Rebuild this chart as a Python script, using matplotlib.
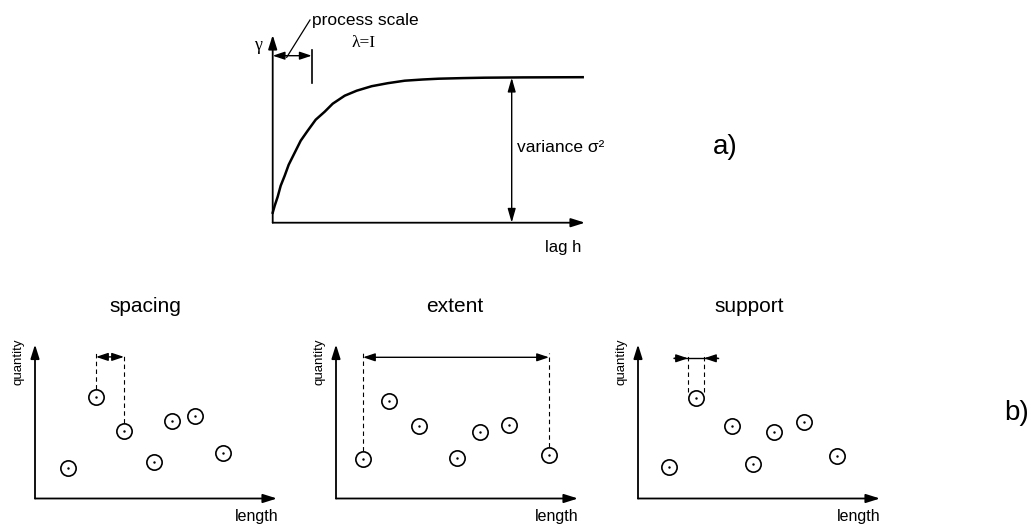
import matplotlib
matplotlib.use('Agg')
import matplotlib.pyplot as plt

plt.rcParams['font.family'] = ['Liberation Sans', 'DejaVu Sans']

W, H = 1031, 525

# variogram curve (lag h, gamma)
lag = [0, 2, 5, 8, 12, 16, 22, 28, 35, 43, 52, 60, 72, 84, 99, 115, 132, 150, 166, 190, 212, 250, 310]
gamma = [10, 17, 26, 37, 47, 58, 70, 82, 92, 103, 111, 119, 127, 132, 136.5, 139.5, 142,
         143.2, 144, 144.6, 145, 145.3, 145.5]
sill = 145
process_scale = 39
variance_at = 239

# sample points of the three bottom panels (length, quantity)
spacing_x = [33, 61, 89, 119, 137, 160, 188]
spacing_y = [31, 102, 68, 37, 78, 83, 46]
extent_x = [27, 53, 83, 121, 144, 173, 213]
extent_y = [40, 98, 73, 41, 67, 74, 44]
support_x = [31, 58, 94, 115, 136, 166, 199]
support_y = [32, 101, 73, 35, 67, 77, 43]

titles = ['spacing', 'extent', 'support']


def px_axes(fig, left, top, right, bottom):
    return fig.add_axes([left / W, 1 - bottom / H, (right - left) / W, (bottom - top) / H])


def axis_arrows(ax, lw=1.3):
    style = '-|>,head_length=0.7,head_width=0.22'
    ax.annotate('', xy=(1, 0), xytext=(0, 0), xycoords='axes fraction',
                arrowprops=dict(arrowstyle=style, lw=lw, color='k', shrinkA=0, shrinkB=0,
                                mutation_scale=12))
    ax.annotate('', xy=(0, 1), xytext=(0, 0), xycoords='axes fraction',
                arrowprops=dict(arrowstyle=style, lw=lw, color='k', shrinkA=0, shrinkB=0,
                                mutation_scale=12))


def dim_arrow(ax, x0, x1, y, style='<|-|>'):
    ax.annotate('', xy=(x1, y), xytext=(x0, y), xycoords='data',
                arrowprops=dict(arrowstyle=style + ',head_length=0.6,head_width=0.2', lw=1.0,
                                color='k', shrinkA=0, shrinkB=0, mutation_scale=12),
                annotation_clip=False)


fig = plt.figure(figsize=(W / 100, H / 100), dpi=100)

# ---- a) variogram
ax = px_axes(fig, 272.7, 35, 585, 222.7)
ax.set_xlim(0, 312.3)
ax.set_ylim(0, 187.7)
ax.axis('off')
axis_arrows(ax)
ax.plot(lag, gamma, color='k', lw=1.8, clip_on=False, solid_joinstyle='round')
ax.annotate('', xy=(variance_at, 0), xytext=(variance_at, sill),
            arrowprops=dict(arrowstyle='<|-|>,head_length=0.7,head_width=0.2', lw=1.0, color='k',
                            shrinkA=0, shrinkB=0, mutation_scale=12))
dim_arrow(ax, 0, process_scale, 167)
ax.plot([process_scale, process_scale], [140, 173], color='k', lw=1.2, clip_on=False)
ax.plot([14, 37.3], [165.4, 202.7], color='k', lw=0.9, clip_on=False)
ax.text(39, 201.7, 'process scale', fontsize=12.5, va='center', ha='left')
ax.text(79, 179.7, 'λ=I', fontsize=12.5, va='center', ha='left', family='Liberation Serif')
ax.text(-14.7, 177.7, 'γ', fontsize=13, va='center', ha='center', family='Liberation Serif')
ax.text(244, 74.7, 'variance σ²', fontsize=12.5, va='center', ha='left')
ax.text(309, -25, 'lag h', fontsize=12, va='center', ha='right')
fig.text(725 / W, 1 - 147 / H, 'a)', fontsize=20, va='center', ha='center')

# ---- b) spacing / extent / support
lefts = [35, 336, 638]
xs = [spacing_x, extent_x, support_x]
ys = [spacing_y, extent_y, support_y]
title_x = [110, 119, 111]
for i in range(3):
    ax = px_axes(fig, lefts[i], 344.5, lefts[i] + 242, 498.5)
    ax.set_xlim(0, 242)
    ax.set_ylim(0, 154)
    ax.axis('off')
    axis_arrows(ax)
    ax.plot(xs[i], ys[i], 'o', ms=11, mfc='white', mec='k', mew=1.2, clip_on=False)
    ax.plot(xs[i], ys[i], '.', ms=1.5, color='k', clip_on=False)
    ax.text(title_x[i], 192, titles[i], fontsize=15, ha='center', va='center')
    ax.text(-16.7, 137, 'quantity', fontsize=9.5, rotation=90, ha='center', va='center')
    ax.text(243, -18, 'length', fontsize=11.5, ha='right', va='center')

    if i == 0:
        a, b = xs[0][1], xs[0][2]
        for k in (1, 2):
            ax.plot([xs[0][k], xs[0][k]], [ys[0][k] + 8, 146], 'k--', lw=0.8, dashes=(4, 3))
        dim_arrow(ax, a, b, 141.6)
    elif i == 1:
        a, b = xs[1][0], xs[1][-1]
        for k in (0, -1):
            ax.plot([xs[1][k], xs[1][k]], [ys[1][k] + 8, 146], 'k--', lw=0.8, dashes=(4, 3))
        dim_arrow(ax, a, b, 141.2)
    else:
        c = xs[2][1]
        for d in (-8, 8):
            ax.plot([c + d, c + d], [ys[2][1] + 6, 146], 'k--', lw=0.8, dashes=(4, 3))
        ax.plot([36, 80], [140.2, 140.2], color='k', lw=1.0)
        dim_arrow(ax, 36, c - 8, 140.2, style='-|>')
        dim_arrow(ax, 80, c + 8, 140.2, style='-|>')

fig.text(1017 / W, 1 - 413 / H, 'b)', fontsize=20, va='center', ha='center')

fig.savefig('out.png', dpi=100)
